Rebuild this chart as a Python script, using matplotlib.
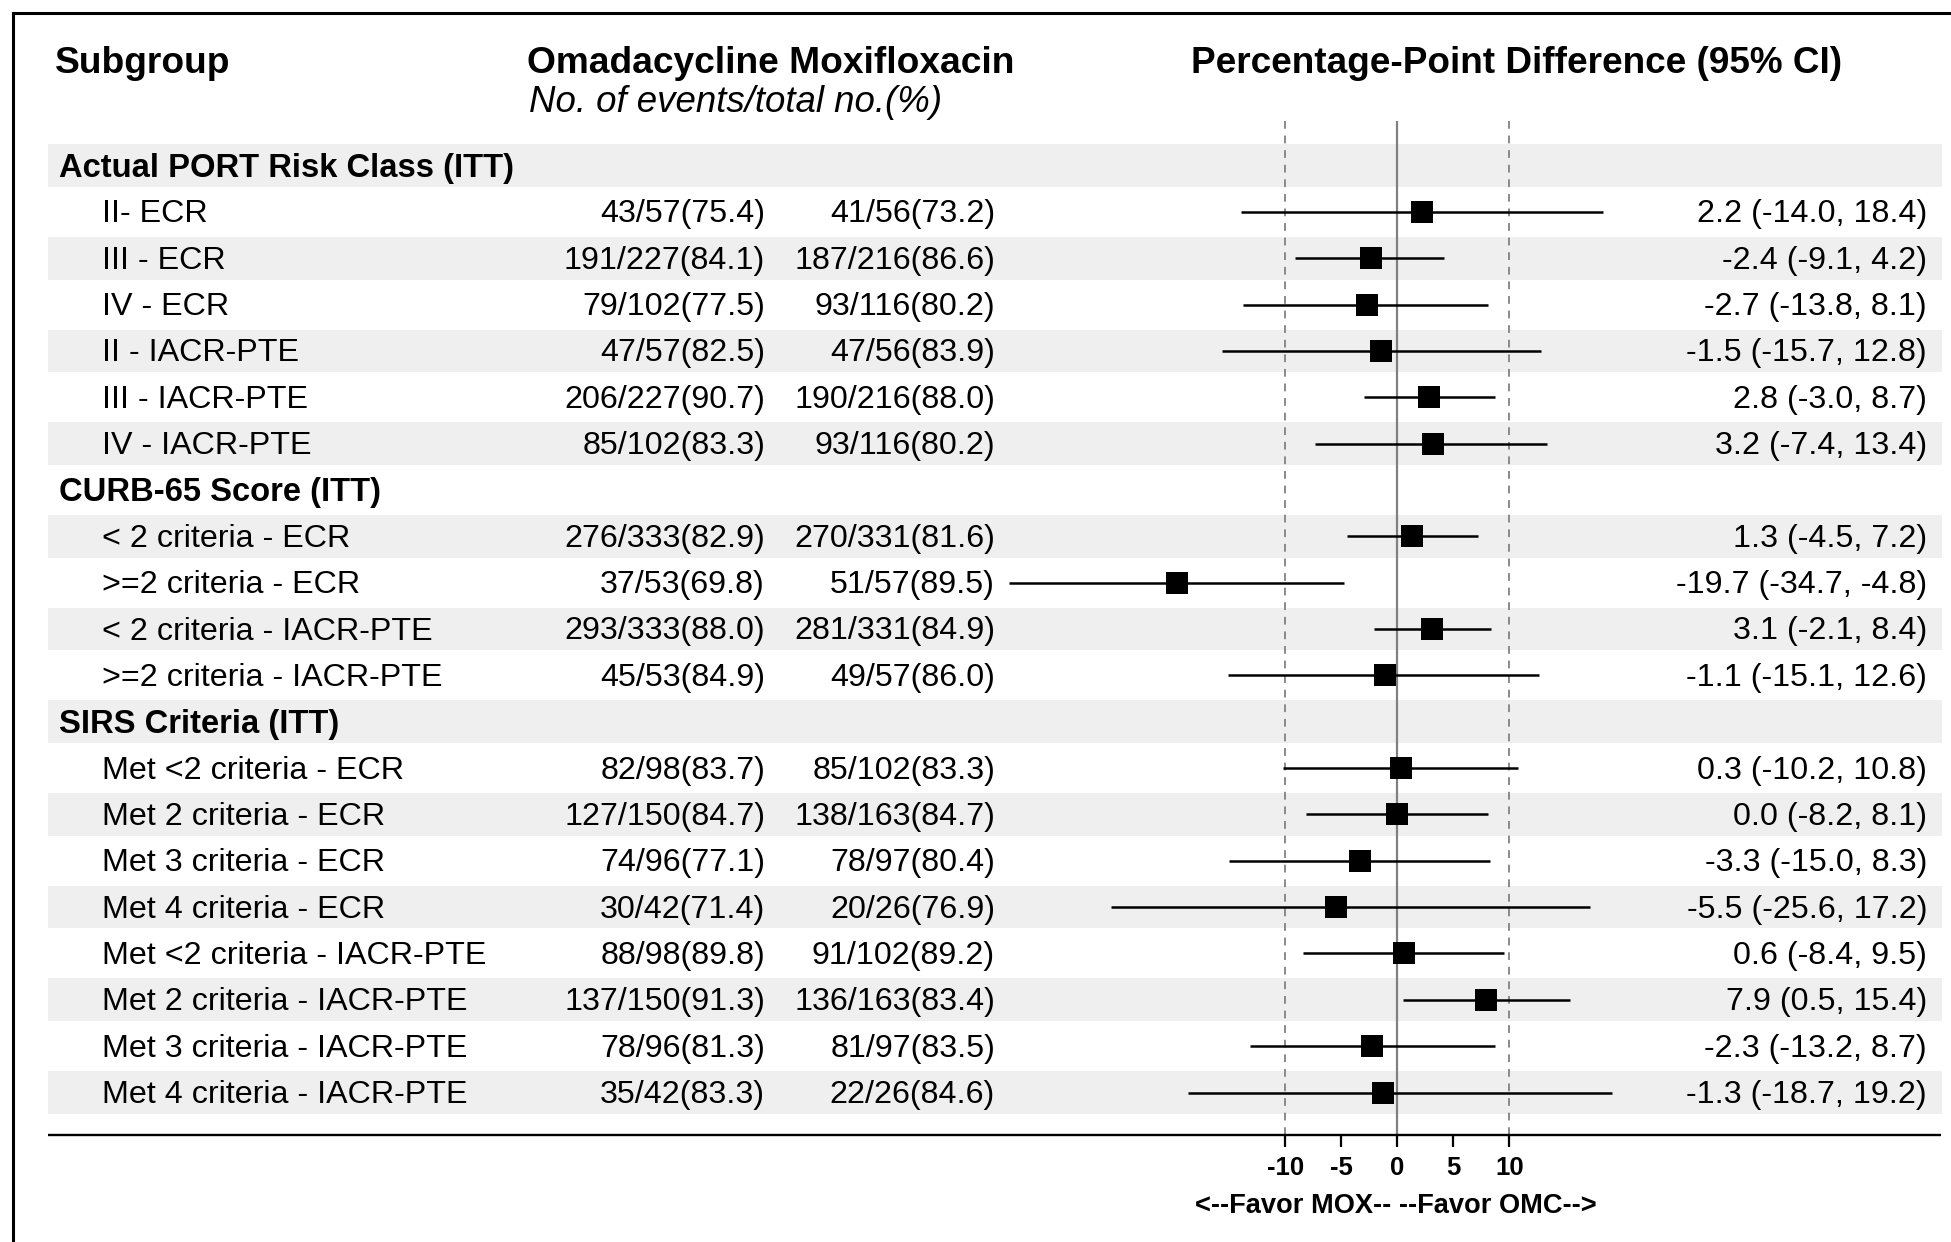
import matplotlib
matplotlib.use('Agg')
import matplotlib.pyplot as plt
import matplotlib.transforms as mtransforms
from matplotlib.lines import Line2D

plt.rcParams['font.family'] = ['Liberation Sans', 'DejaVu Sans']

# rows of the table, top to bottom (None = group header row)
labels = ['Actual PORT Risk Class (ITT)',
          'II- ECR', 'III - ECR', 'IV - ECR',
          'II - IACR-PTE', 'III - IACR-PTE', 'IV - IACR-PTE',
          'CURB-65 Score (ITT)',
          '< 2 criteria - ECR', '>=2 criteria - ECR',
          '< 2 criteria - IACR-PTE', '>=2 criteria - IACR-PTE',
          'SIRS Criteria (ITT)',
          'Met <2 criteria - ECR', 'Met 2 criteria - ECR',
          'Met 3 criteria - ECR', 'Met 4 criteria - ECR',
          'Met <2 criteria - IACR-PTE', 'Met 2 criteria - IACR-PTE',
          'Met 3 criteria - IACR-PTE', 'Met 4 criteria - IACR-PTE']
omc = [None, '43/57(75.4)', '191/227(84.1)', '79/102(77.5)', '47/57(82.5)',
       '206/227(90.7)', '85/102(83.3)',
       None, '276/333(82.9)', '37/53(69.8)', '293/333(88.0)', '45/53(84.9)',
       None, '82/98(83.7)', '127/150(84.7)', '74/96(77.1)', '30/42(71.4)',
       '88/98(89.8)', '137/150(91.3)', '78/96(81.3)', '35/42(83.3)']
mox = [None, '41/56(73.2)', '187/216(86.6)', '93/116(80.2)', '47/56(83.9)',
       '190/216(88.0)', '93/116(80.2)',
       None, '270/331(81.6)', '51/57(89.5)', '281/331(84.9)', '49/57(86.0)',
       None, '85/102(83.3)', '138/163(84.7)', '78/97(80.4)', '20/26(76.9)',
       '91/102(89.2)', '136/163(83.4)', '81/97(83.5)', '22/26(84.6)']
est = [None, 2.2, -2.4, -2.7, -1.5, 2.8, 3.2,
       None, 1.3, -19.7, 3.1, -1.1,
       None, 0.3, 0.0, -3.3, -5.5, 0.6, 7.9, -2.3, -1.3]
lo = [None, -14.0, -9.1, -13.8, -15.7, -3.0, -7.4,
      None, -4.5, -34.7, -2.1, -15.1,
      None, -10.2, -8.2, -15.0, -25.6, -8.4, 0.5, -13.2, -18.7]
hi = [None, 18.4, 4.2, 8.1, 12.8, 8.7, 13.4,
      None, 7.2, -4.8, 8.4, 12.6,
      None, 10.8, 8.1, 8.3, 17.2, 9.5, 15.4, 8.7, 19.2]
ticks = [-10, -5, 0, 5, 10]

# layout in pixels of the 1951x1242 picture
W, H = 1951, 1242
X0, PXU = 1397.4, 11.2      # pixel of zero, pixels per percentage point
Y0, ROW = 165.5, 46.35      # pixel of first row, row pitch
DY = 2.5 / ROW              # small downward nudge for text


def ry(py):
    return (py - Y0) / ROW


def fx(px):
    return px / W


def dx(px):
    return (px - X0) / PXU


fig = plt.figure(figsize=(W / 100, H / 100), dpi=100)
ax = fig.add_axes([0, 0, 1, 1])
ax.set_xlim(dx(0), dx(W))
ax.set_ylim(ry(H), ry(0))
ax.axis('off')
tr = mtransforms.blended_transform_factory(fig.transFigure, ax.transData)

BODY = 23.2
GROUP = 23.6
HEAD = 26.7

# shaded bands on every other row
for i in range(0, len(labels), 2):
    ax.axhspan(i - 0.46, i + 0.46, xmin=fx(48), xmax=fx(1942),
               color='#efefef', lw=0, zorder=0)

# column headers
ax.text(fx(55), ry(63.5), 'Subgroup', transform=tr, fontsize=HEAD,
        fontweight='bold', va='center', ha='left')
ax.text(fx(527), ry(63.5), 'Omadacycline Moxifloxacin', transform=tr,
        fontsize=HEAD, fontweight='bold', va='center', ha='left')
ax.text(fx(529), ry(103), 'No. of events/total no.(%)', transform=tr,
        fontsize=26.4, style='italic', va='center', ha='left')
ax.text(fx(1191), ry(63.5), 'Percentage-Point Difference (95% CI)',
        transform=tr, fontsize=26.6, fontweight='bold', va='center', ha='left')

# table rows
for i, lab in enumerate(labels):
    y = i + DY
    if est[i] is None:
        ax.text(fx(59), y, lab, transform=tr, fontsize=GROUP,
                fontweight='bold', va='center', ha='left')
        continue
    ax.text(fx(102), y, lab, transform=tr, fontsize=BODY, va='center', ha='left')
    ax.text(fx(765), y, omc[i], transform=tr, fontsize=BODY, va='center', ha='right')
    ax.text(fx(995), y, mox[i], transform=tr, fontsize=BODY, va='center', ha='right')
    ax.text(fx(1927), y, '%.1f (%.1f, %.1f)' % (est[i], lo[i], hi[i]),
            transform=tr, fontsize=BODY, va='center', ha='right')

# reference lines
y_top, y_axis = ry(121), ry(1134.5)
ax.vlines([-10, 10], y_top, y_axis, colors='#8a8a8a', lw=1.4,
          linestyles=(0, (4, 3.5)), zorder=1)
ax.vlines([0], y_top, y_axis, colors='#808080', lw=1.6, zorder=1)

# estimates with confidence intervals
for i in range(len(labels)):
    if est[i] is None:
        continue
    ax.plot([lo[i], hi[i]], [i, i], color='black', lw=1.8,
            solid_capstyle='butt', zorder=2)
    ax.plot(est[i], i, marker='s', ms=16, color='black', mew=0, zorder=3)

# bottom axis line, ticks and labels
ax.plot([dx(48), dx(1941)], [y_axis, y_axis],
        color='black', lw=1.7, solid_capstyle='butt', zorder=3)
ax.vlines(ticks, y_axis, ry(1147), colors='black', lw=1.6, zorder=3)
for t in ticks:
    ax.text(t, ry(1168), str(t), fontsize=18.5, fontweight='bold',
            ha='center', va='center')
ax.text(dx(1396), ry(1206), '<--Favor MOX-- --Favor OMC-->',
        fontsize=19.6, fontweight='bold', ha='center', va='center')

# frame on the left and top
fig.add_artist(Line2D([fx(13), fx(13)], [0, 1 - 12.5 / H], transform=fig.transFigure,
                      color='black', lw=2.2, solid_capstyle='projecting'))
fig.add_artist(Line2D([fx(13), 1], [1 - 12.5 / H, 1 - 12.5 / H],
                      transform=fig.transFigure, color='black', lw=2.2,
                      solid_capstyle='projecting'))

fig.savefig('out.png', dpi=100, facecolor='white')
